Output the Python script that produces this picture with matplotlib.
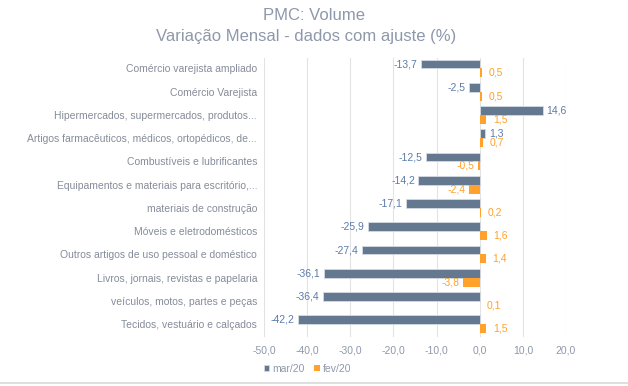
import matplotlib
matplotlib.use("Agg")
import matplotlib.pyplot as plt
import numpy as np

plt.rcParams['font.family'] = ['Liberation Sans', 'DejaVu Sans']

categories = [
    "Comércio varejista ampliado",
    "Comércio Varejista",
    "Hipermercados, supermercados, produtos...",
    "Artigos farmacêuticos, médicos, ortopédicos, de...",
    "Combustíveis e lubrificantes",
    "Equipamentos e materiais para escritório,...",
    "materiais de construção",
    "Móveis e eletrodomésticos",
    "Outros artigos de uso pessoal e doméstico",
    "Livros, jornais, revistas e papelaria",
    "veículos, motos, partes e peças",
    "Tecidos, vestuário e calçados",
]
mar20 = [-13.7, -2.5, 14.6, 1.3, -12.5, -14.2, -17.1, -25.9, -27.4, -36.1, -36.4, -42.2]
fev20 = [0.5, 0.5, 1.5, 0.7, -0.5, -2.4, 0.2, 1.6, 1.4, -3.8, 0.1, 1.5]
xticks = [-50, -40, -30, -20, -10, 0, 10, 20]

c_mar = "#64788f"
c_fev = "#ffa12b"
c_lbl = "#5b7ba8"
c_txt = "#8e98ab"

fig = plt.figure(figsize=(6.28, 3.86), dpi=100)
ax = fig.add_axes([264 / 628, 1 - 337 / 386, (566 - 264) / 628, (337 - 58) / 386])

y = np.arange(len(categories))
h = 0.38
ax.barh(y - h / 2, mar20, height=h, color=c_mar, edgecolor="#d5dbe3", linewidth=0.6, label="mar/20", zorder=3)
ax.barh(y + h / 2, fev20, height=h, color=c_fev, label="fev/20", zorder=3)

def fmt(v):
    return f"{v:.1f}".replace(".", ",")

for yi, v in zip(y, mar20):
    off = 0.8 if v >= 0 else -0.8
    ax.text(v + off, yi - h / 2, fmt(v), ha="left" if v >= 0 else "right", va="center",
            fontsize=7.5, color=c_lbl)
for yi, v in zip(y, fev20):
    if v >= 0:
        ax.text(v + 1.6, yi + h / 2, fmt(v), ha="left", va="center", fontsize=7.5, color=c_fev)
    else:
        ax.text(v - 0.8, yi + h / 2, fmt(v), ha="right", va="center", fontsize=7.5, color=c_fev)

ax.set_xlim(-50, 20)
ax.set_ylim(len(categories) - 0.45, -0.45)
ax.set_xticks(xticks)
ax.set_xticklabels([fmt(t) for t in xticks], fontsize=7.5, color=c_txt)
ax.set_yticks(y)
ax.set_yticklabels(categories, fontsize=7.5, color="#858c99")
ax.tick_params(axis="x", length=0, pad=6)
ax.tick_params(axis="y", length=0, pad=5)
ax.grid(axis="x", color="#e3e3e3", linewidth=0.8, zorder=0)
for s in ax.spines.values():
    s.set_visible(False)

fig.text(0.5, 1 - 16 / 386, "PMC: Volume", ha="center", va="center", fontsize=12, color=c_txt)
fig.text(0.488, 1 - 37 / 386, "Variação Mensal - dados com ajuste (%)", ha="center", va="center",
         fontsize=12, color=c_txt)

fig.legend(loc="center", bbox_to_anchor=(0.49, 1 - 369 / 386), ncol=2, frameon=False,
           fontsize=7.5, labelcolor=c_txt, handlelength=0.55, handleheight=0.55, columnspacing=0.9,
           handletextpad=0.3)

fig.add_artist(plt.Line2D([0, 1], [1 - 383 / 386, 1 - 383 / 386], color="#d9d9d9", linewidth=1.2,
                          transform=fig.transFigure))

fig.savefig("out.png", dpi=100)
